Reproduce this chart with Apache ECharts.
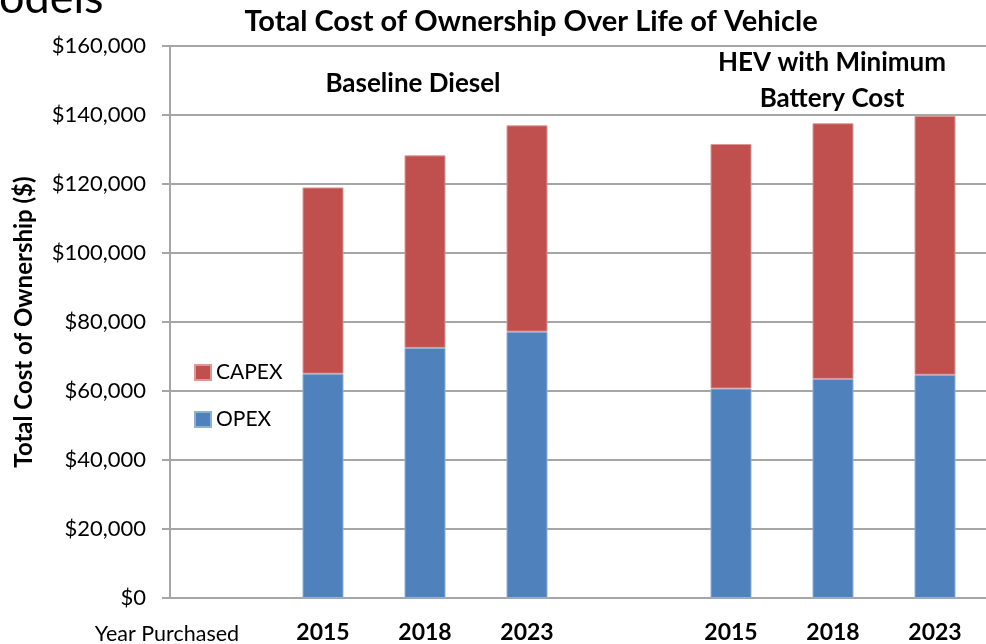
<!DOCTYPE html>
<html>
<head>
<meta charset="utf-8">
<script src="https://cdn.jsdelivr.net/npm/echarts@6/dist/echarts.min.js"></script>
<style>
html,body{margin:0;padding:0;background:#fff;}
#chart{width:986px;height:644px;}
</style>
</head>
<body>
<div id="chart"></div>
<script>
const categories = ['', '2015', '2018', '2023', '', '2015', '2018', '2023'];
const opexValues = [null, 65000, 72500, 77200, null, 60700, 63500, 64700];
const capexValues = [null, 54000, 55800, 59800, null, 70900, 74100, 75100];
const seriesNames = ['OPEX', 'CAPEX'];
const legendOrder = ['CAPEX', 'OPEX'];
const yTicks = { min: 0, max: 160000, interval: 20000 };
const titleText = 'Total Cost of Ownership Over Life of Vehicle';
const yAxisTitle = 'Total Cost of Ownership ($)';
const xAxisTitle = 'Year Purchased';
const groupLabels = ['Baseline Diesel', 'HEV with Minimum\nBattery Cost'];
const slideFragment = 'odels';

const FONT = 'Lato, "Open Sans", sans-serif';
const GRID = '#a6a6a6';
const chart = echarts.init(document.getElementById('chart'), null, { renderer: 'canvas' });

chart.setOption({
  animation: false,
  backgroundColor: '#fff',
  textStyle: { fontFamily: FONT },
  grid: { left: 170, right: -4, top: 46, bottom: 44, containLabel: false },
  legend: {
    orient: 'vertical',
    left: 194,
    top: 362,
    padding: 0,
    data: legendOrder,
    icon: 'rect',
    itemWidth: 16,
    itemHeight: 15,
    itemGap: 26,
    textStyle: { fontFamily: FONT, fontSize: 21, color: '#000' },
    selectedMode: false
  },
  xAxis: {
    type: 'category',
    data: categories,
    axisLine: { show: true, lineStyle: { color: GRID, width: 2 } },
    axisTick: { show: false },
    axisLabel: {
      fontFamily: FONT, fontSize: 23, fontWeight: 'bold', color: '#000', margin: 23, interval: 0
    },
    splitLine: { show: false }
  },
  yAxis: {
    type: 'value',
    min: yTicks.min,
    max: yTicks.max,
    interval: yTicks.interval,
    axisLine: { show: true, lineStyle: { color: GRID, width: 2 } },
    axisTick: { show: true, length: 8, inside: false, lineStyle: { color: GRID, width: 2 } },
    axisLabel: {
      fontFamily: FONT, fontSize: 22, color: '#000', margin: 24,
      formatter: v => '$' + v.toLocaleString('en-US')
    },
    splitLine: { show: true, lineStyle: { color: GRID, width: 2 } }
  },
  series: [
    {
      name: seriesNames[0], type: 'bar', stack: 'total', data: opexValues,
      barWidth: 41,
      itemStyle: { color: '#4F81BD', borderColor: '#8fb0d9', borderWidth: 1 }
    },
    {
      name: seriesNames[1], type: 'bar', stack: 'total', data: capexValues,
      barWidth: 41,
      itemStyle: { color: '#C0504D', borderColor: '#dc9896', borderWidth: 1 }
    }
  ],
  graphic: [
    { type: 'text', left: -1, top: -24, style: { text: slideFragment, fontFamily: FONT, fontSize: 45, fill: '#000' } },
    { type: 'text', x: 531, y: 22, style: { text: titleText, fontFamily: FONT, fontSize: 29, fontWeight: 'bold', fill: '#000', align: 'center', verticalAlign: 'middle' } },
    { type: 'text', x: 413, y: 84, style: { text: groupLabels[0], fontFamily: FONT, fontSize: 26, fontWeight: 'bold', fill: '#000', align: 'center', verticalAlign: 'middle' } },
    { type: 'text', x: 832, y: 81, style: { text: groupLabels[1], fontFamily: FONT, fontSize: 26, fontWeight: 'bold', fill: '#000', align: 'center', verticalAlign: 'middle', lineHeight: 36 } },
    { type: 'text', x: 167, y: 634, style: { text: xAxisTitle, fontFamily: FONT, fontSize: 21.5, fill: '#000', align: 'center', verticalAlign: 'middle' } },
    { type: 'text', x: 24, y: 322, rotation: Math.PI / 2, style: { text: yAxisTitle, fontFamily: FONT, fontSize: 24, fontWeight: 'bold', fill: '#000', align: 'center', verticalAlign: 'middle' } }
  ]
});
</script>
</body>
</html>
